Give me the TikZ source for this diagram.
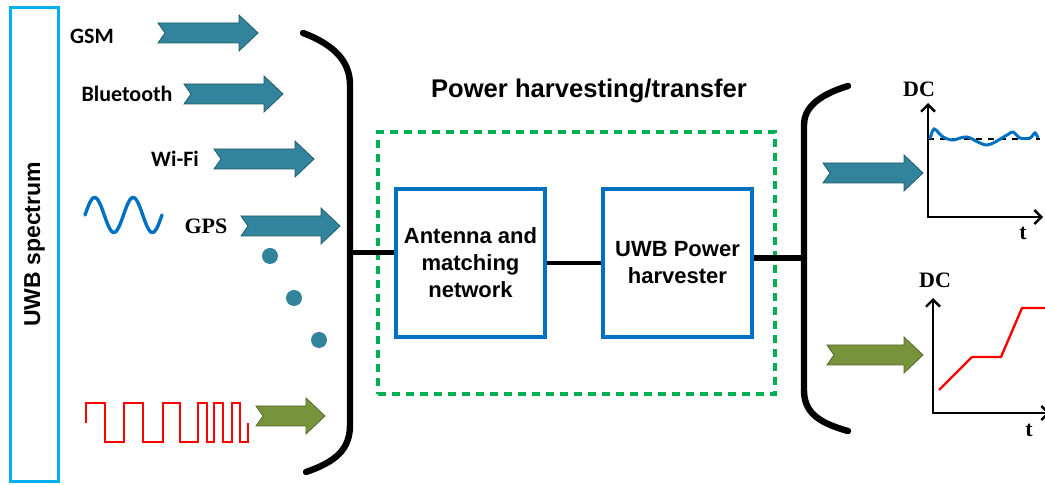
\documentclass[tikz,border=0pt]{standalone}
\usepackage{fontspec}
\setmainfont{Liberation Sans}
\newfontfamily\cali{Carlito}
\newfontfamily\romana{Liberation Serif}
\usepackage{xcolor}
\usepackage{tikz}
\usetikzlibrary{arrows.meta,calc}
\definecolor{cian}{HTML}{00B0F0}
\definecolor{azul}{HTML}{0070C0}
\definecolor{verde}{HTML}{00B050}
\definecolor{petroleo}{HTML}{31849B}
\definecolor{oliva}{HTML}{77933C}
\definecolor{rojo}{HTML}{FF0000}
\tikzset{
  caja/.style={draw=azul,fill=white,line width=2pt,align=center,font=\bfseries\fontsize{11}{13.5}\selectfont,minimum width=74.5pt,minimum height=74pt,inner sep=2pt},
  zona/.style={draw=verde,line width=2pt,dash pattern=on 4pt off 3pt,minimum width=198.5pt,minimum height=131pt},
  espectro/.style={draw=cian,line width=1.3pt,rotate=90,minimum width=237pt,minimum height=24pt,font=\bfseries\fontsize{11.5}{13}\selectfont},
  banda/.style={font=\cali\bfseries\fontsize{11}{13}\selectfont,inner sep=0pt},
  etiq/.style={font=\romana\bfseries\fontsize{11}{13}\selectfont,inner sep=0pt},
  punto/.style={circle,fill=petroleo,minimum size=8pt,inner sep=0pt},
  corchete/.style={line width=3.2pt,line cap=round},
  eje/.style={{Straight Barb[length=3.5pt,width=7pt]}-{Straight Barb[length=3.5pt,width=7pt]},line width=1.2pt},
  flechaazul/.style={fill=petroleo,draw=petroleo!70!black,line width=0.4pt},
  flechaverde/.style={fill=oliva,draw=oliva!70!black,line width=0.4pt},
  pics/flechota/.style={code={
    \path[pic actions] (7,0) -- (0,-10) -- ({#1-19},-10) -- ({#1-19},-18) -- (#1,0)
      -- ({#1-19},18) -- ({#1-19},10) -- (0,10) -- cycle;}},
}
\begin{document}
\begin{tikzpicture}[x=0.5pt,y=-0.5pt]
  \useasboundingbox (0,0) rectangle (1045,485);
  % fuentes de entrada
  \node[espectro] (uwb) at (34.5,244.5) {UWB spectrum};
  \node[banda] (gsm) at (92,36) {GSM};
  \node[banda] (bt) at (127,94) {Bluetooth};
  \node[banda] (wifi) at (175,159) {Wi-Fi};
  \node[etiq] (gps) at (206,226) {GPS};
  \pic[flechaazul] at (158,33) {flechota=100};
  \pic[flechaazul] at (184,94) {flechota=99};
  \pic[flechaazul] at (214,159) {flechota=100};
  \pic[flechaazul] at (241,226) {flechota=99};
  \pic[flechaverde] at (256,416) {flechota=69};
  \foreach \i/\px/\py in {1/270/256,2/294/298,3/319/340}
    \node[punto] (p\i) at (\px,\py) {};
  \draw[azul,line width=1.7pt,line cap=round] plot[domain=0:720,samples=70,smooth] ({85+\x/360*38.5},{215-17.5*sin(\x)});
  \draw[rojo,line width=1pt] (86,423) |- (105,403) |- (124,442) |- (143,403) |- (163,442)
    |- (180,403) |- (198,442) |- (207,403) |- (214,442) |- (223,403) |- (232,442)
    |- (240,403) |- (248,442) -- (248,423);
  \draw[corchete] (303,33) .. controls (335,45) and (350,62) .. (350,85) -- (350,425)
    .. controls (350,450) and (335,462) .. (306,472);

  % bloque central
  \node[font=\bfseries\fontsize{12.8}{15}\selectfont] (titulo) at (589,91) {Power harvesting/transfer};
  \node[zona] (marco) at (576.5,263) {};
  \node[caja] (antenna) at (470.5,263) {Antenna and\\matching\\network};
  \node[caja] (harvester) at (677.5,263) {UWB Power\\harvester};
  \coordinate (entrada) at (350,253);
  \coordinate (salida) at (804,258);
  \draw[line width=2.5pt] (entrada) -- (entrada -| antenna.west);
  \draw[line width=2pt] (antenna) -- (harvester);
  \draw[line width=3pt] (salida -| harvester.east) -- (salida);
  \draw[corchete] (848,86) .. controls (815,96) and (804,110) .. (804,125) -- (804,390)
    .. controls (804,410) and (815,422) .. (848,431);

  % salidas DC
  \pic[flechaazul] at (823,173) {flechota=100};
  \pic[flechaverde] at (827,355) {flechota=96};
  \node[etiq] (dc1) at (919,89) {DC};
  \node[etiq] (t1) at (1023,233) {t};
  \draw[eje] (928,103) |- (1043,217);
  \draw[dashed,line width=0.8pt] (928,139) -- (1040,139);
  \draw[azul,line width=1.5pt] plot[smooth] coordinates {(930,139) (934,129) (943,137) (953,140)
    (967,137) (987,145) (1007,135) (1013,132) (1020,138) (1030,138) (1035,133) (1038,138)};
  \node[etiq] (dc2) at (935,280) {DC};
  \node[etiq] (t2) at (1029,430) {t};
  \draw[eje] (933,298) |- (1050,413);
  \draw[rojo,line width=1.2pt] (939,390) -- (972,357) -- (1001,357) -- (1022,308) -- (1045,308);
\end{tikzpicture}
\end{document}
